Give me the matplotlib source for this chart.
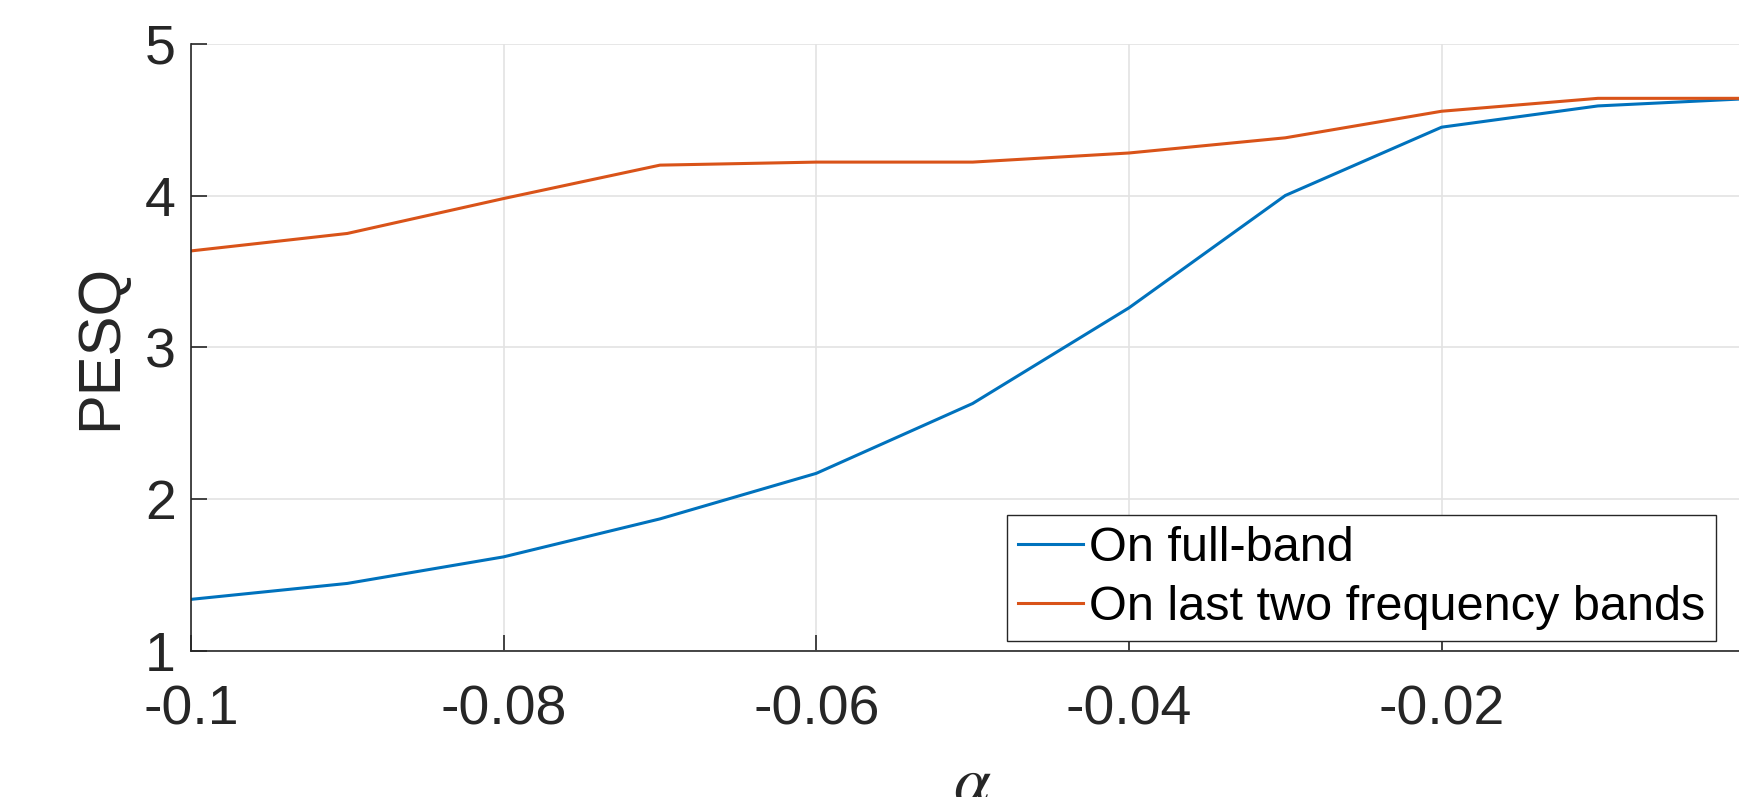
import matplotlib
matplotlib.use("Agg")
import matplotlib.pyplot as plt

# PESQ against alpha
alpha = [-0.1, -0.09, -0.08, -0.07, -0.06, -0.05, -0.04, -0.03, -0.02, -0.01, 0.0]
pesq_full_band = [1.34, 1.445, 1.62, 1.87, 2.17, 2.63, 3.26, 4.00, 4.45, 4.59, 4.64]
pesq_last_two = [3.635, 3.75, 3.98, 4.20, 4.22, 4.22, 4.28, 4.38, 4.555, 4.64, 4.64]
labels = ["On full-band", "On last two frequency bands"]
xticks = [-0.1, -0.08, -0.06, -0.04, -0.02]
xtick_labels = ["-0.1", "-0.08", "-0.06", "-0.04", "-0.02"]
yticks = [1, 2, 3, 4, 5]

plt.rcParams['font.family'] = ['Liberation Sans', 'DejaVu Sans']
plt.rcParams['mathtext.fontset'] = 'stix'

dark = '#262626'
fig = plt.figure(figsize=(17.39, 7.97), dpi=100)
ax = fig.add_axes([0.1098, 0.1832, 0.899, 0.762])

ax.plot(alpha, pesq_full_band, color='#0072BD', linewidth=2.2, label=labels[0])
ax.plot(alpha, pesq_last_two, color='#D95319', linewidth=2.2, label=labels[1])

ax.set_xlim(-0.1, 0.0)
ax.set_ylim(1, 5)
ax.set_xticks(xticks)
ax.set_xticklabels(xtick_labels)
ax.set_yticks(yticks)
ax.grid(True, color='#e3e3e3', linewidth=1.2)
ax.set_axisbelow(True)

for side in ['top', 'right']:
    ax.spines[side].set_visible(False)
for side in ['left', 'bottom']:
    ax.spines[side].set_color(dark)
    ax.spines[side].set_linewidth(1.2)

ax.tick_params(axis='both', direction='in', length=11.5, width=1.2, color=dark,
               labelcolor=dark, labelsize=40)
ax.tick_params(axis='x', pad=24)
ax.tick_params(axis='y', pad=11)

ax.set_ylabel('PESQ', fontsize=43, color=dark, labelpad=12)
ax.set_xlabel(r'$\alpha$', fontsize=48, color=dark, labelpad=13)

leg = ax.legend(loc='lower right', bbox_to_anchor=(1716 / 1739, 1 - 641 / 797),
                bbox_transform=fig.transFigure, borderaxespad=0, fontsize=35,
                fancybox=False, framealpha=1, edgecolor=dark, handlelength=1.35,
                handletextpad=0.12, labelspacing=0.3, borderpad=0.22)
leg.get_frame().set_linewidth(1.0)
for t in leg.get_texts():
    t.set_color('black')

fig.savefig('out.png', dpi=100)
